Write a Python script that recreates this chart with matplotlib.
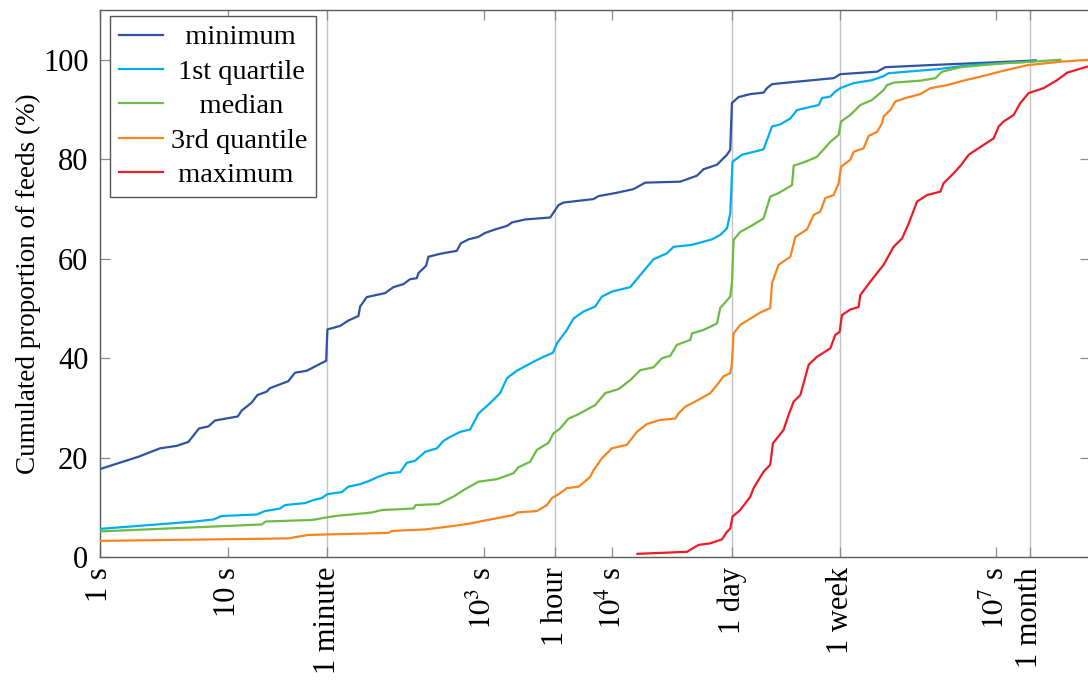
import numpy as np
import matplotlib.pyplot as plt

plt.rcParams['font.family'] = ['Liberation Serif', 'DejaVu Serif']
plt.rcParams['mathtext.fontset'] = 'stix'

# x values are log10(seconds), y values are cumulated % of feeds
min_logt = [0, 0.303, 0.472, 0.603, 0.694, 0.777, 0.85, 0.902, 1.079, 1.11, 1.188, 1.232,
            1.305, 1.331, 1.474, 1.526, 1.618, 1.708, 1.769, 1.779, 1.878, 1.943, 2.021,
            2.034, 2.086, 2.229, 2.294, 2.372, 2.424, 2.477, 2.489, 2.549, 2.567, 2.659,
            2.789, 2.82, 2.88, 2.958, 3.01, 3.088, 3.18, 3.219, 3.322, 3.518, 3.549, 3.583,
            3.622, 3.856, 3.895, 4.025, 4.168, 4.259, 4.533, 4.663, 4.715, 4.819, 4.858,
            4.897, 4.923, 4.936, 4.988, 5.08, 5.183, 5.21, 5.249, 5.405, 5.73, 5.782,
            6.069, 6.133, 6.459, 7.266, 7.305]
min_pct = [17.7, 20.2, 21.9, 22.4, 23.2, 25.9, 26.3, 27.5, 28.3, 29.5, 31.1, 32.6,
           33.3, 34.0, 35.4, 37.1, 37.5, 38.7, 39.5, 45.8, 46.5, 47.6, 48.5,
           50.4, 52.3, 53.1, 54.3, 54.9, 55.9, 56.1, 57.1, 58.6, 60.4, 61.0,
           61.6, 63.1, 63.9, 64.4, 65.2, 65.9, 66.6, 67.3, 67.9, 68.3, 69.5, 70.8,
           71.3, 72.0, 72.6, 73.2, 74.0, 75.3, 75.5, 76.7, 78.0, 78.9, 79.9,
           80.9, 81.9, 91.3, 92.5, 93.1, 93.4, 94.3, 95.1, 95.5, 96.3, 97.1,
           97.6, 98.5, 98.9, 99.8, 99.9]

q1_logt = [0, 0.746, 0.889, 0.954, 1.227, 1.292, 1.41, 1.448, 1.605, 1.669, 1.735, 1.779,
           1.891, 1.943, 2.034, 2.099, 2.177, 2.255, 2.346, 2.399, 2.463, 2.542, 2.633,
           2.685, 2.737, 2.815, 2.893, 2.958, 3.049, 3.127, 3.18, 3.258, 3.387, 3.466,
           3.539, 3.57, 3.648, 3.7, 3.778, 3.869, 3.921, 3.999, 4.142, 4.22, 4.298,
           4.324, 4.429, 4.48, 4.624, 4.78, 4.845, 4.897, 4.923, 4.941, 5.014, 5.183,
           5.249, 5.313, 5.392, 5.444, 5.613, 5.639, 5.704, 5.743, 5.782, 5.886, 6.029,
           6.12, 6.159, 6.537, 6.823, 7.266, 7.305]
q1_pct = [5.7, 7.2, 7.6, 8.3, 8.6, 9.3, 9.8, 10.5, 10.9, 11.5, 11.9, 12.7,
          13.1, 14.2, 14.7, 15.3, 16.2, 16.9, 17.1, 19.0, 19.4, 21.2, 21.9,
          23.4, 24.2, 25.2, 25.7, 28.9, 31.0, 33.0, 36.0, 37.5, 39.3, 40.3,
          41.1, 43.0, 45.7, 48.0, 49.4, 50.4, 52.4, 53.4, 54.3, 56.7, 59.1,
          59.9, 61.1, 62.4, 62.8, 63.9, 64.8, 66.1, 69.1, 79.5, 80.9, 82.0,
          86.6, 87.0, 88.2, 89.9, 90.9, 92.3, 92.6, 93.6, 94.3, 95.3, 95.9,
          96.7, 97.3, 98.1, 99.0, 99.6, 99.8]

med_logt = [0, 1.266, 1.297, 1.657, 1.839, 2.125, 2.203, 2.45, 2.469, 2.646, 2.763, 2.841,
            2.958, 3.101, 3.231, 3.27, 3.361, 3.414, 3.504, 3.543, 3.596, 3.661, 3.726,
            3.869, 3.947, 4.051, 4.142, 4.22, 4.324, 4.39, 4.455, 4.507, 4.611, 4.624,
            4.715, 4.819, 4.845, 4.923, 4.936, 4.949, 5.001, 5.08, 5.183, 5.235, 5.3,
            5.405, 5.418, 5.509, 5.6, 5.704, 5.769, 5.788, 5.86, 5.938, 6.029, 6.12,
            6.146, 6.198, 6.407, 6.524, 6.576, 6.72, 7.057, 7.266, 7.5]
med_pct = [5.2, 6.6, 7.2, 7.5, 8.3, 9.0, 9.5, 9.8, 10.5, 10.7, 12.2, 13.5,
           15.2, 15.7, 16.9, 18.1, 19.2, 21.6, 23.0, 24.9, 25.9, 27.9, 28.6,
           30.6, 33.0, 33.8, 35.6, 37.6, 38.2, 40.0, 40.5, 42.7, 43.7, 45.0,
           45.7, 47.0, 50.1, 52.4, 55.1, 63.8, 65.4, 66.5, 68.1, 72.5, 73.2,
           74.8, 78.7, 79.5, 80.5, 83.5, 84.9, 87.6, 88.9, 90.9, 91.9, 93.9,
           94.9, 95.4, 95.8, 96.3, 97.6, 98.5, 99.3, 99.6, 100.0]

q3_logt = [0, 1.474, 1.63, 2.255, 2.281, 2.542, 2.763, 2.893, 3.01, 3.231, 3.258, 3.414,
           3.492, 3.531, 3.596, 3.648, 3.739, 3.778, 3.83, 3.856, 3.921, 3.999, 4.116,
           4.194, 4.273, 4.376, 4.494, 4.519, 4.572, 4.636, 4.767, 4.819, 4.871, 4.923,
           4.936, 4.949, 5.001, 5.157, 5.235, 5.249, 5.3, 5.392, 5.431, 5.522, 5.574,
           5.626, 5.665, 5.73, 5.769, 5.788, 5.86, 5.886, 5.964, 6.003, 6.069, 6.107,
           6.12, 6.172, 6.211, 6.289, 6.407, 6.485, 6.615, 6.758, 6.875, 7.057, 7.24,
           7.5, 7.72]
q3_pct = [3.3, 3.8, 4.5, 4.9, 5.3, 5.6, 6.3, 6.8, 7.4, 8.5, 9.0, 9.3,
          10.5, 11.9, 12.9, 13.9, 14.2, 15.0, 16.2, 17.5, 19.9, 21.9, 22.6,
          25.2, 26.8, 27.6, 27.9, 28.9, 30.3, 31.1, 33.0, 34.6, 36.4, 37.0,
          39.0, 45.0, 46.7, 49.2, 50.1, 55.1, 58.8, 60.4, 64.4, 65.9, 68.8,
          69.5, 72.2, 72.8, 75.2, 78.5, 79.9, 81.5, 82.2, 84.7, 85.5, 87.2,
          88.6, 89.9, 91.6, 92.3, 93.1, 94.3, 94.9, 95.9, 96.6, 97.8, 98.9,
          99.6, 100.0]

max_logt = [4.199, 4.585, 4.676, 4.767, 4.858, 4.897, 4.923, 4.941, 5.001, 5.08, 5.105,
            5.183, 5.235, 5.256, 5.339, 5.378, 5.418, 5.47, 5.535, 5.6, 5.704, 5.743,
            5.777, 5.795, 5.86, 5.925, 5.938, 6.016, 6.12, 6.198, 6.264, 6.316, 6.381,
            6.459, 6.563, 6.589, 6.667, 6.72, 6.784, 6.901, 6.979, 7.018, 7.057, 7.135,
            7.187, 7.252, 7.369, 7.474, 7.552, 7.708]
max_pct = [0.7, 1.1, 2.5, 2.8, 3.6, 5.1, 5.8, 8.2, 9.5, 12.2, 13.9,
           17.2, 18.6, 22.9, 25.6, 28.6, 31.3, 32.6, 38.7, 40.3, 42.0, 44.7,
           45.3, 48.7, 49.8, 50.3, 52.7, 55.4, 58.8, 62.4, 64.1, 67.1, 71.5,
           72.8, 73.5, 75.2, 77.2, 78.7, 80.9, 82.9, 84.2, 86.6, 87.6, 88.9,
           91.3, 93.3, 94.3, 95.9, 97.4, 98.6]

series_names = ['minimum', '1st quartile', 'median', '3rd quantile', 'maximum']
series_colors = ['#2f52a3', '#00aeef', '#6cbb45', '#f7841f', '#ec1c24']

# ticks (seconds); the ones with a grid line and the plain ones
grid_ticks = [60, 3600, 86400, 604800, 18144000]
grid_labels = ['1 minute', '1 hour', '1 day', '1 week', '1 month']
plain_ticks = [1, 10, 1e3, 1e4, 1e7]
plain_labels = ['1 s', '10 s', r'$10^3$ s', r'$10^4$ s', r'$10^7$ s']


def main():
    fig = plt.figure(figsize=(10.88, 6.82), dpi=100)
    ax = fig.add_axes([99.5 / 1088, 1 - 557.3 / 682, (1089.5 - 99.5) / 1088, (557.3 - 10) / 682])

    data = [(min_logt, min_pct), (q1_logt, q1_pct), (med_logt, med_pct),
            (q3_logt, q3_pct), (max_logt, max_pct)]
    for (lt, pct), name, col in zip(data, series_names, series_colors):
        ax.plot(10 ** np.array(lt), pct, color=col, lw=1.6, label=name, zorder=3)

    ax.set_xscale('log')
    ax.set_xlim(1, 10 ** 7.727)
    ax.set_ylim(0, 110)

    ax.set_xticks(grid_ticks, grid_labels, rotation=90)
    ax.set_xticks(plain_ticks, plain_labels, minor=True, rotation=90)
    ax.set_yticks(np.arange(0, 101, 20))
    ax.grid(True, which='major', axis='x', color='#c4c4c4', lw=1.0)

    axis_col = '#5a5a5a'
    for sp in ax.spines.values():
        sp.set_color(axis_col)
        sp.set_linewidth(1.0)
    for which in ['major', 'minor']:
        ax.tick_params(axis='both', which=which, direction='in', length=7, width=0.9,
                       color='#8a8a8a', top=True, right=True, labelsize=22, pad=7)
    ax.tick_params(axis='y', pad=8)
    ax.set_ylabel('Cumulated proportion of feeds (%)', fontsize=19.5)
    ax.yaxis.set_label_coords((41 - 99.5) / 990, 0.5)

    leg = ax.legend(loc='upper left', bbox_to_anchor=(10.5 / 990, 1 - 6 / 547.3),
                    borderaxespad=0, fontsize=20.5, handlelength=1.55, handletextpad=0.3,
                    labelspacing=0.3, borderpad=0.3, fancybox=False, framealpha=1,
                    edgecolor='#555555')
    leg.get_frame().set_linewidth(1.0)

    # centre the legend labels like the original
    fig.canvas.draw()
    texts = leg.get_texts()
    widths = [t.get_window_extent().width for t in texts]
    sp_w = (texts[0].get_fontproperties().get_size_in_points() * 0.25) * 100 / 72
    for t, w in zip(texts, widths):
        n = int(round((max(widths) - w) / 2 / sp_w))
        t.set_text(' ' * n + t.get_text())

    fig.savefig('out.png', dpi=100)


if __name__ == '__main__':
    main()
